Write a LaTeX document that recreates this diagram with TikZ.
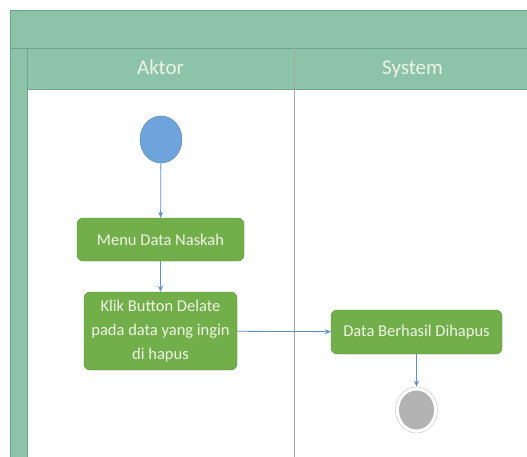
\documentclass[tikz,border=0pt]{standalone}
\usepackage{fontspec}
\setmainfont{Carlito}
\usetikzlibrary{arrows.meta,shapes.geometric}
\definecolor{lanegreen}{HTML}{8CC3A9}
\definecolor{laneedge}{HTML}{6FA58C}
\definecolor{actgreen}{HTML}{72AE4A}
\definecolor{acttext}{HTML}{EEF6E6}
\definecolor{flowblue}{HTML}{5F8FC8}
\definecolor{startblue}{HTML}{6EA3DC}
\definecolor{endgray}{HTML}{B3B3B3}
\tikzset{
  lanefill/.style={fill=lanegreen, draw=laneedge, line width=0.8pt},
  lanetitle/.style={text=acttext, font=\fontsize{21}{24}\selectfont,
    text height=14pt, text depth=4pt},
  action/.style={rectangle, rounded corners=6pt, fill=actgreen, draw=actgreen!85!black,
    line width=0.4pt, text=acttext, align=center, inner sep=2pt,
    font=\fontsize{16.5}{24}\selectfont},
  flow/.style={draw=flowblue, line width=0.8pt, -{Stealth[length=6pt,width=5pt]}},
}
\begin{document}
\begin{tikzpicture}[x=1pt, y=-1pt]
  \useasboundingbox (0,0) rectangle (527,456);
  % swimlane frame
  \fill[white] (10,10) rectangle (540,470);
  \draw[lanefill] (10,10) rectangle (540,48);
  \draw[lanefill] (10,48) rectangle (27,470);
  \draw[lanefill] (27,48) rectangle (540,89);
  \draw[draw=gray!70, line width=0.8pt] (294,48) -- (294,470);
  \node[lanetitle] (aktor) at (160.5,69) {Aktor};
  \node[lanetitle] (system) at (412.5,69) {System};
  % start node
  \node[ellipse, minimum width=42pt, minimum height=47pt, inner sep=0pt,
        fill=startblue, draw=startblue!85!black, line width=0.5pt] (start) at (161,139.5) {};
  % actions
  \node[action, minimum width=167pt, minimum height=43pt] (menu) at (160.5,239.5) {Menu Data Naskah};
  \node[action, minimum width=153pt, minimum height=78pt] (klik) at (160.5,331)
    {Klik Button Delate\\pada data yang ingin\\di hapus};
  \node[action, minimum width=171pt, minimum height=44pt] (hapus) at (416.5,332) {Data Berhasil Dihapus};
  % final node
  \node[ellipse, minimum width=42pt, minimum height=46pt, inner sep=0pt,
        fill=white, draw=gray!35, line width=0.6pt] (final) at (416.5,410) {};
  \node[ellipse, minimum width=35pt, minimum height=39pt, inner sep=0pt,
        fill=endgray] (finalin) at (416.5,410) {};
  % flows
  \draw[flow] (start) -- (menu);
  \draw[flow] (menu) -- (klik);
  \draw[flow] (klik) -- (hapus);
  \draw[flow] (hapus) -- (final);
\end{tikzpicture}
\end{document}
